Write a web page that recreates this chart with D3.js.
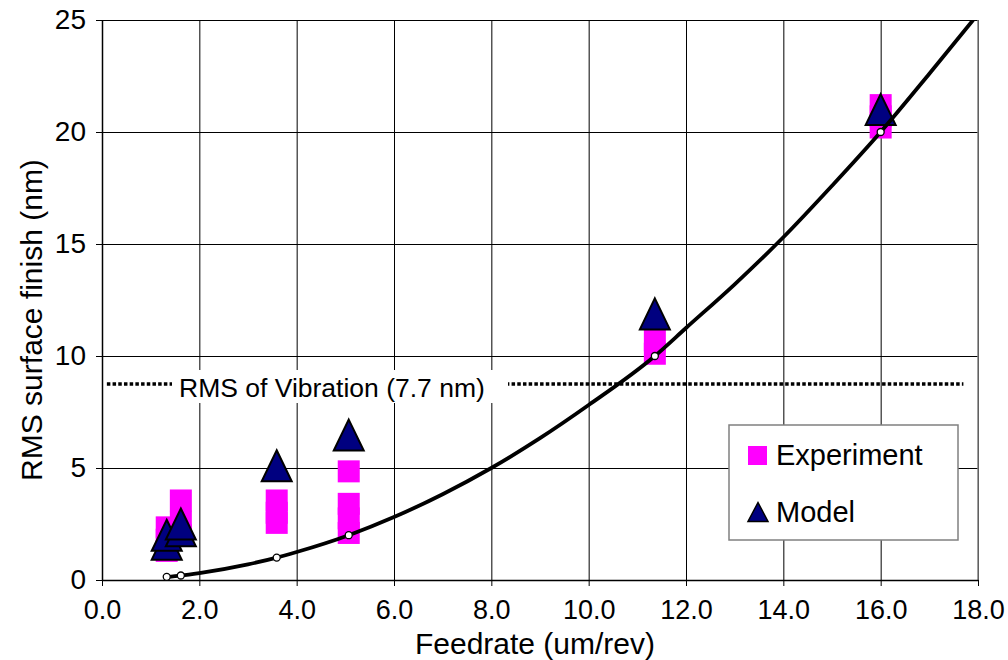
<!DOCTYPE html>
<html>
<head>
<meta charset="utf-8">
<script src="https://cdn.jsdelivr.net/npm/d3@7"></script>
<style>
  body { margin: 0; background: #fff; }
  svg { font-family: "Liberation Sans", Arial, sans-serif; }
</style>
</head>
<body>
<div id="chart"></div>
<script>
// tick values
const xTicks = [0, 2, 4, 6, 8, 10, 12, 14, 16, 18];
const yTicks = [0, 5, 10, 15, 20, 25];

// measured surface finish (several runs per feedrate)
const expFeed = [1.33, 1.33, 1.33, 1.62, 1.62, 1.62, 3.59, 3.59, 3.59,
                 5.07, 5.07, 5.07, 5.07, 11.36, 11.36, 16.0, 16.0, 16.0];
const expRms  = [1.3, 1.8, 2.35, 3.55, 2.6, 2.0, 3.55, 3.0, 2.55,
                 4.85, 3.4, 2.75, 2.1, 10.1, 10.7, 20.2, 20.7, 21.2];

// model predictions
const modelFeed = [1.33, 1.33, 1.62, 1.62, 3.59, 5.07, 11.36, 16.0];
const modelRms  = [1.6, 2.0, 2.2, 2.5, 5.1, 6.47, 11.88, 21.0];

// theoretical curve, small circles at the test feedrates
const fitFeed = [1.33, 1.62, 3.59, 5.07, 11.36, 16.0];
const fitRms  = [0.14, 0.2, 1.0, 2.0, 10.0, 20.0];

const curveFeed = [1.33, 1.62, 2, 3, 3.59, 4, 5.07, 6, 7, 8, 9, 10, 11.36, 12, 13, 14, 15, 16, 17, 17.9];
const curveRms  = [0.14, 0.2, 0.31, 0.7, 1.0, 1.25, 2.0, 2.81, 3.83, 5.0, 6.33, 7.81, 10.0, 11.25, 13.2, 15.3, 17.6, 20.0, 22.6, 25.0];

const vibrationLevel = 8.75;
const vibrationLabel = "RMS of Vibration (7.7 nm)";

const width = 1008, height = 660;
const plotL = 102, plotR = 978, plotT = 20, plotB = 580;

const svg = d3.select("#chart").append("svg")
    .attr("width", width)
    .attr("height", height);

const x = d3.scaleLinear().domain([0, 18]).range([plotL, plotR]);
const y = d3.scaleLinear().domain([0, 25]).range([plotB, plotT]);

svg.append("defs").append("clipPath").attr("id", "plot")
    .append("rect")
    .attr("x", plotL).attr("y", plotT)
    .attr("width", plotR - plotL).attr("height", plotB - plotT);

// grid
svg.append("g")
    .attr("transform", `translate(0,${plotB})`)
    .call(d3.axisBottom(x).tickValues(xTicks).tickSize(-(plotB - plotT)).tickFormat(""))
    .call(g => g.select(".domain").remove())
    .selectAll("line").attr("stroke", "#000").attr("stroke-width", 1);

svg.append("g")
    .attr("transform", `translate(${plotL},0)`)
    .call(d3.axisLeft(y).tickValues(yTicks).tickSize(-(plotR - plotL)).tickFormat(""))
    .call(g => g.select(".domain").remove())
    .selectAll("line").attr("stroke", "#000").attr("stroke-width", 1);

// right border
svg.append("line")
    .attr("x1", plotR).attr("x2", plotR)
    .attr("y1", plotT).attr("y2", plotB)
    .attr("stroke", "#808080").attr("stroke-width", 1.5);

// axes
const xAxis = svg.append("g")
    .attr("transform", `translate(0,${plotB})`)
    .call(d3.axisBottom(x).tickValues(xTicks).tickSizeInner(6).tickSizeOuter(0).tickFormat(d3.format(".1f")));
xAxis.select(".domain").attr("stroke", "#000").attr("stroke-width", 1.5);
xAxis.selectAll("text").attr("font-size", 27).attr("fill", "#000").attr("dy", "1.1em");
xAxis.selectAll("line").attr("stroke", "#000");

const yAxis = svg.append("g")
    .attr("transform", `translate(${plotL},0)`)
    .call(d3.axisLeft(y).tickValues(yTicks).tickSizeInner(6).tickSizeOuter(0));
yAxis.select(".domain").attr("stroke", "#000").attr("stroke-width", 1.5);
yAxis.selectAll("text").attr("font-size", 28).attr("fill", "#000").attr("x", -16);
yAxis.selectAll("line").attr("stroke", "#000");

// axis titles
svg.append("text")
    .attr("x", 535).attr("y", 654)
    .attr("text-anchor", "middle")
    .attr("font-size", 30)
    .text("Feedrate (um/rev)");

svg.append("text")
    .attr("transform", "translate(42,320) rotate(-90)")
    .attr("text-anchor", "middle")
    .attr("font-size", 30)
    .text("RMS surface finish (nm)");

// vibration line with label box
svg.append("line")
    .attr("x1", x(0.1)).attr("x2", x(17.7))
    .attr("y1", y(vibrationLevel)).attr("y2", y(vibrationLevel))
    .attr("stroke", "#000").attr("stroke-width", 3.5)
    .attr("stroke-dasharray", "3.5,2.2");

svg.append("rect")
    .attr("x", 172).attr("y", y(vibrationLevel) - 14)
    .attr("width", 336).attr("height", 33)
    .attr("fill", "#fff");

svg.append("text")
    .attr("x", 179).attr("y", y(vibrationLevel) + 13)
    .attr("font-size", 26.5)
    .text(vibrationLabel);

// experiment squares
const sq = 22;
svg.append("g").selectAll("rect")
    .data(expFeed.map((f, i) => [f, expRms[i]]))
    .join("rect")
    .attr("x", d => x(d[0]) - sq / 2)
    .attr("y", d => y(d[1]) - sq / 2)
    .attr("width", sq).attr("height", sq)
    .attr("fill", "#ff00ff");

// model triangles
const tw = 30, th = 31;
const tri = `M0,${-th / 2}L${tw / 2},${th / 2}L${-tw / 2},${th / 2}Z`;
svg.append("g").selectAll("path")
    .data(modelFeed.map((f, i) => [f, modelRms[i]]))
    .join("path")
    .attr("d", tri)
    .attr("transform", d => `translate(${x(d[0])},${y(d[1])})`)
    .attr("fill", "#000080")
    .attr("stroke", "#000")
    .attr("stroke-width", 2)
    .attr("stroke-linejoin", "miter");

// theoretical curve
const line = d3.line()
    .x(d => x(d[0]))
    .y(d => y(d[1]))
    .curve(d3.curveMonotoneX);

svg.append("path")
    .datum(curveFeed.map((f, i) => [f, curveRms[i]]))
    .attr("clip-path", "url(#plot)")
    .attr("d", line)
    .attr("fill", "none")
    .attr("stroke", "#000")
    .attr("stroke-width", 3.8);

svg.append("g").selectAll("circle")
    .data(fitFeed.map((f, i) => [f, fitRms[i]]))
    .join("circle")
    .attr("cx", d => x(d[0]))
    .attr("cy", d => y(d[1]))
    .attr("r", 3.5)
    .attr("fill", "#fff")
    .attr("stroke", "#000")
    .attr("stroke-width", 1.3);

// legend
const lg = svg.append("g");
lg.append("rect")
    .attr("x", 729).attr("y", 425)
    .attr("width", 229).attr("height", 115)
    .attr("fill", "#fff")
    .attr("stroke", "#808080").attr("stroke-width", 1.5);

lg.append("rect")
    .attr("x", 748).attr("y", 446)
    .attr("width", 19).attr("height", 19)
    .attr("fill", "#ff00ff");
lg.append("text")
    .attr("x", 776).attr("y", 465)
    .attr("font-size", 29)
    .text("Experiment");

lg.append("path")
    .attr("d", "M0,-9.5L10,9.5L-10,9.5Z")
    .attr("transform", "translate(758,512)")
    .attr("fill", "#000080")
    .attr("stroke", "#000").attr("stroke-width", 1.5);
lg.append("text")
    .attr("x", 776).attr("y", 522)
    .attr("font-size", 29)
    .text("Model");
</script>
</body>
</html>
